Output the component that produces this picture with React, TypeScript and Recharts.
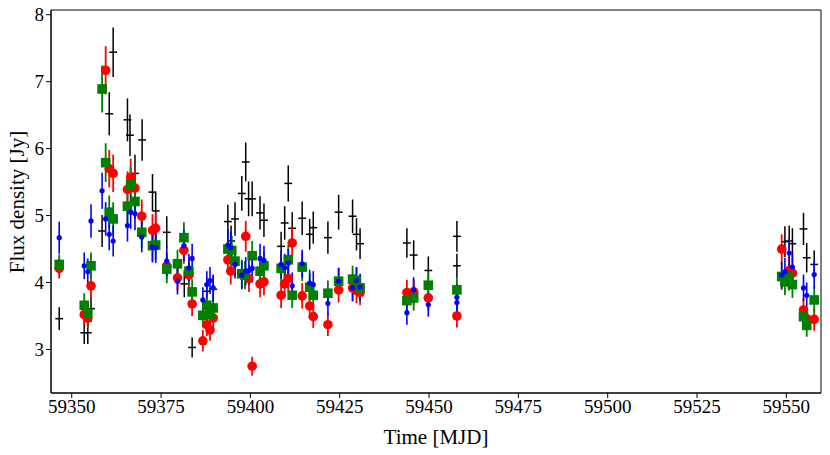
import { ScatterChart, Scatter, XAxis, YAxis, ErrorBar, ReferenceArea } from 'recharts';

// Time [MJD], flux density [Jy] and 1-sigma errors per band
const blackMjd = [
  59346.5, 59353.5, 59354.5, 59355.4, 59358.5, 59360.5, 59361.6, 59365.6, 59366.3, 59367.7,
  59369.7, 59372.6, 59373.5, 59376.6, 59381.5, 59383.7, 59387.8, 59389.6, 59393.7, 59394.6,
  59395.7, 59397.6, 59398.7, 59399.5, 59400.5, 59402.7, 59403.8, 59408.6, 59409.6, 59410.6,
  59411.7, 59414.5, 59416.6, 59417.6, 59421.7, 59424.7, 59428.6, 59429.7, 59430.7, 59443.8,
  59445.7, 59449.8, 59457.8, 59457.8, 59549.6, 59550.8, 59551.7, 59554.8, 59555.7, 59557.8,
];
const blackFlux = [
  3.46, 3.25, 3.25, 3.61, 4.77, 6.52, 7.44, 6.43, 6.2, 5.63,
  6.13, 5.35, 5.07, 4.75, 3.98, 3.03, 3.87, 3.9, 4.91, 4.62,
  4.95, 5.33, 5.8, 5.25, 5.25, 5.04, 4.93, 4.54, 4.89, 5.48,
  4.81, 4.96, 4.72, 4.82, 4.67, 5.05, 4.99, 4.72, 4.58, 4.59,
  4.41, 4.18, 4.69, 4.25, 4.61, 4.62, 4.58, 4.8, 4.37, 4.27,
];
const blackErr = [
  0.17, 0.17, 0.17, 0.2, 0.24, 0.32, 0.37, 0.32, 0.31, 0.28,
  0.31, 0.27, 0.27, 0.24, 0.2, 0.15, 0.2, 0.2, 0.25, 0.23,
  0.25, 0.26, 0.29, 0.26, 0.26, 0.25, 0.25, 0.22, 0.25, 0.27,
  0.24, 0.25, 0.23, 0.24, 0.24, 0.26, 0.25, 0.24, 0.23, 0.22,
  0.22, 0.21, 0.23, 0.18, 0.23, 0.23, 0.23, 0.24, 0.22, 0.21,
];
const blackTimeErr = 1.1;

const redMjd = [
  59346.5, 59353.5, 59354.5, 59355.4, 59359.5, 59360.5, 59361.6, 59365.6, 59366.5, 59367.7,
  59369.6, 59372.6, 59373.5, 59376.6, 59379.6, 59381.4, 59382.8, 59383.7, 59386.7, 59387.8,
  59388.7, 59389.6, 59393.7, 59394.5, 59398.7, 59399.6, 59400.5, 59402.7, 59403.8, 59408.6,
  59409.6, 59410.6, 59411.7, 59414.5, 59416.6, 59417.6, 59421.7, 59424.7, 59428.6, 59429.7,
  59430.7, 59443.8, 59445.7, 59449.8, 59457.8, 59548.7, 59550.8, 59551.7, 59554.8, 59555.7,
  59557.8,
];
const redFlux = [
  4.21, 3.52, 3.47, 3.95, 7.17, 5.7, 5.63, 5.39, 5.57, 5.41,
  4.99, 4.78, 4.81, 4.25, 4.07, 4.48, 4.11, 3.68, 3.13, 3.37,
  3.29, 3.47, 4.34, 4.17, 4.69, 4.06, 2.75, 3.98, 4.01, 3.81,
  3.98, 4.06, 4.59, 3.8, 3.65, 3.49, 3.37, 3.89, 3.92, 3.88,
  3.85, 3.85, 3.86, 3.77, 3.5, 4.5, 4.18, 4.14, 3.59, 3.46,
  3.45,
];
const redErr = [
  0.15, 0.15, 0.15, 0.18, 0.36, 0.28, 0.28, 0.27, 0.28, 0.27,
  0.25, 0.24, 0.24, 0.2, 0.2, 0.2, 0.2, 0.18, 0.16, 0.17,
  0.16, 0.17, 0.2, 0.2, 0.23, 0.2, 0.14, 0.2, 0.2, 0.19,
  0.2, 0.2, 0.23, 0.19, 0.18, 0.17, 0.17, 0.19, 0.2, 0.19,
  0.19, 0.19, 0.19, 0.19, 0.17, 0.22, 0.21, 0.21, 0.18, 0.17,
  0.17,
];

const greenMjd = [
  59346.5, 59353.5, 59354.5, 59355.4, 59358.5, 59359.5, 59360.5, 59361.6, 59365.6, 59366.5,
  59367.7, 59369.6, 59372.6, 59373.5, 59376.6, 59379.6, 59381.4, 59382.8, 59383.7, 59386.7,
  59387.8, 59388.7, 59389.6, 59393.7, 59394.8, 59395.7, 59397.6, 59398.5, 59400.5, 59402.7,
  59403.8, 59408.6, 59410.6, 59411.7, 59414.5, 59416.6, 59417.6, 59421.7, 59424.7, 59428.6,
  59429.7, 59430.7, 59443.8, 59445.7, 59449.8, 59457.8, 59548.7, 59549.6, 59550.8, 59551.7,
  59554.8, 59555.7, 59557.8,
];
const greenFlux = [
  4.27, 3.66, 3.54, 4.25, 6.89, 5.79, 5.05, 4.95, 5.14, 5.46,
  5.21, 4.75, 4.55, 4.56, 4.2, 4.28, 4.67, 4.17, 3.86, 3.51,
  3.66, 3.52, 3.62, 4.5, 4.48, 4.32, 4.13, 4.11, 4.4, 4.17,
  4.25, 4.21, 4.34, 3.81, 4.23, 3.93, 3.81, 3.84, 4.02, 4.05,
  4.03, 3.92, 3.73, 3.77, 3.96, 3.89, 4.09, 4.01, 4.08, 3.97,
  3.49, 3.36, 3.74,
];
const greenErr = [
  0.15, 0.18, 0.18, 0.2, 0.35, 0.29, 0.25, 0.25, 0.26, 0.27,
  0.26, 0.24, 0.23, 0.23, 0.21, 0.21, 0.23, 0.21, 0.19, 0.18,
  0.18, 0.18, 0.18, 0.22, 0.22, 0.22, 0.21, 0.21, 0.22, 0.21,
  0.21, 0.21, 0.22, 0.19, 0.21, 0.2, 0.19, 0.19, 0.2, 0.2,
  0.2, 0.2, 0.19, 0.19, 0.2, 0.19, 0.2, 0.2, 0.2, 0.2,
  0.17, 0.17, 0.19,
];

const blueMjd = [
  59346.5, 59353.5, 59354.5, 59355.4, 59358.5, 59359.5, 59360.5, 59361.6, 59365.6, 59366.5,
  59367.7, 59369.6, 59372.6, 59373.5, 59376.6, 59379.6, 59381.4, 59382.8, 59383.7, 59386.7,
  59387.8, 59388.7, 59389.6, 59393.7, 59394.5, 59395.7, 59397.6, 59398.7, 59399.6, 59400.5,
  59402.7, 59403.8, 59408.6, 59409.6, 59410.6, 59411.7, 59414.5, 59416.6, 59417.6, 59421.7,
  59424.7, 59428.6, 59429.7, 59430.7, 59443.8, 59445.7, 59449.8, 59457.8, 59457.8, 59548.7,
  59549.6, 59550.8, 59551.7, 59554.8, 59555.7, 59557.8,
];
const blueFlux = [
  4.67, 4.25, 4.16, 4.92, 5.37, 4.95, 4.72, 4.62, 4.85, 5.05,
  5.03, 4.68, 4.53, 4.52, 4.32, 4.02, 4.55, 4.22, 4.36, 3.74,
  3.97, 4.03, 3.92, 4.56, 4.52, 4.27, 4.11, 4.17, 4.18, 4.21,
  4.36, 4.33, 4.27, 4.22, 4.29, 3.95, 4.28, 3.99, 3.97, 3.69,
  4.02, 3.92, 4.03, 3.93, 3.55, 3.89, 3.67, 3.78, 3.7, 4.11,
  4.16, 4.44, 4.23, 3.92, 3.81, 4.12,
];
const blueErr = [
  0.24, 0.2, 0.2, 0.25, 0.27, 0.25, 0.24, 0.23, 0.24, 0.25,
  0.25, 0.23, 0.23, 0.23, 0.22, 0.2, 0.23, 0.21, 0.22, 0.19,
  0.2, 0.2, 0.2, 0.23, 0.23, 0.21, 0.21, 0.21, 0.21, 0.21,
  0.22, 0.22, 0.21, 0.21, 0.21, 0.2, 0.21, 0.2, 0.2, 0.18,
  0.2, 0.2, 0.2, 0.2, 0.18, 0.19, 0.18, 0.19, 0.18, 0.2,
  0.21, 0.22, 0.21, 0.2, 0.19, 0.21,
];

const xTicks = [59350, 59375, 59400, 59425, 59450, 59475, 59500, 59525, 59550];
const yTicks = [3, 4, 5, 6, 7, 8];
const xDomain = [59344.2, 59559.7];
const yDomain = [2.35, 8.07];

const toRows = (mjd: number[], flux: number[], err: number[], xErr = 0) =>
  mjd.map((t, i) => ({ t, f: flux[i], err: err[i], xErr }));

const blackData = toRows(blackMjd, blackFlux, blackErr, blackTimeErr);
const redData = toRows(redMjd, redFlux, redErr);
const greenData = toRows(greenMjd, greenFlux, greenErr);
const blueData = toRows(blueMjd, blueFlux, blueErr);

const FONT = '"Liberation Serif", "DejaVu Serif", serif';
const W = 830;
const H = 455;

export default function App() {
  const tickStyle = { fontSize: 19, fill: '#000', fontFamily: FONT };
  const labelStyle = { fontSize: 21, fill: '#000', fontFamily: FONT };
  return (
    <div style={{ position: 'absolute', left: 0, top: 0, width: W, height: H, background: '#fff' }}>
      <ScatterChart width={W} height={H} margin={{ top: 10, right: 9, left: 0, bottom: 0 }}>
        <XAxis
          type="number"
          dataKey="t"
          domain={xDomain}
          allowDataOverflow
          ticks={xTicks}
          tick={tickStyle}
          tickSize={5}
          tickLine={{ stroke: '#000' }}
          axisLine={{ stroke: '#000' }}
          height={62}
          label={{
            content: () => (
              <text x={436} y={437} textAnchor="middle" dominantBaseline="central" style={labelStyle}>
                Time [MJD]
              </text>
            ),
          }}
        />
        <YAxis
          type="number"
          dataKey="f"
          domain={yDomain}
          allowDataOverflow
          ticks={yTicks}
          tick={tickStyle}
          tickSize={5}
          tickLine={{ stroke: '#000' }}
          axisLine={{ stroke: '#000' }}
          width={51}
          label={{
            content: () => (
              <text x={17} y={202} transform="rotate(-90 17 202)" textAnchor="middle" dominantBaseline="central" style={labelStyle}>
                Flux density [Jy]
              </text>
            ),
          }}
        />
        {/* frame on top and right like matplotlib's axes box */}
        <ReferenceArea
          x1={xDomain[0]}
          x2={xDomain[1]}
          y1={yDomain[0]}
          y2={yDomain[1]}
          fill="none"
          stroke="#000"
          strokeWidth={1}
          ifOverflow="visible"
        />

        <Scatter data={blackData} isAnimationActive={false} shape={() => <g />}>
          <ErrorBar dataKey="err" direction="y" width={0} stroke="#000" strokeWidth={1.5} isAnimationActive={false} />
          <ErrorBar dataKey="xErr" direction="x" width={0} stroke="#000" strokeWidth={1.5} isAnimationActive={false} />
        </Scatter>
        <Scatter
          data={redData}
          isAnimationActive={false}
          shape={(p: any) => <circle cx={p.cx} cy={p.cy} r={4.8} fill="#ff0000" />}
        >
          <ErrorBar dataKey="err" direction="y" width={0} stroke="#ff0000" strokeWidth={1.8} isAnimationActive={false} />
        </Scatter>
        <Scatter
          data={greenData}
          isAnimationActive={false}
          shape={(p: any) => <rect x={p.cx - 4.8} y={p.cy - 4.8} width={9.6} height={9.6} fill="#008000" />}
        >
          <ErrorBar dataKey="err" direction="y" width={0} stroke="#008000" strokeWidth={1.8} isAnimationActive={false} />
        </Scatter>
        <Scatter
          data={blueData}
          isAnimationActive={false}
          shape={(p: any) => <circle cx={p.cx} cy={p.cy} r={2.6} fill="#0000ff" />}
        >
          <ErrorBar dataKey="err" direction="y" width={0} stroke="#0000ff" strokeWidth={1.6} isAnimationActive={false} />
        </Scatter>
      </ScatterChart>
    </div>
  );
}
